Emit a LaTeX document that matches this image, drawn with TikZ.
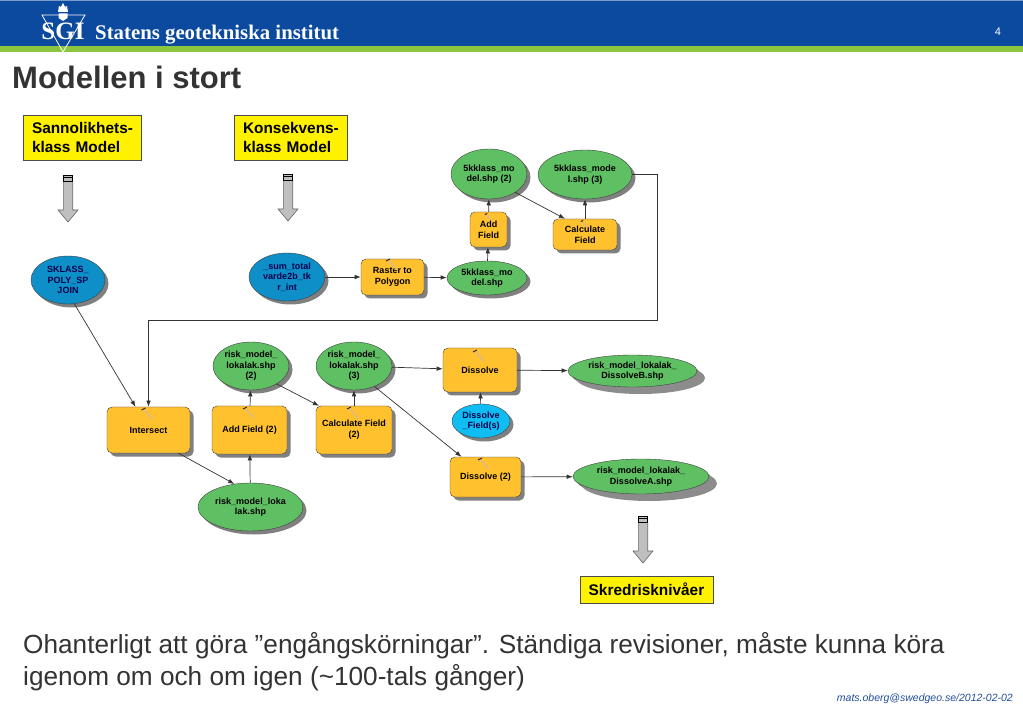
\documentclass[tikz,border=0pt]{standalone}
\usepackage{xcolor}
\usepackage{fontspec}
\setmainfont{Liberation Sans}
\newfontfamily\logofont{Liberation Serif}
\usetikzlibrary{shapes.geometric,arrows.meta,shadows}
\definecolor{sgiblue}{HTML}{0B4A9E}
\definecolor{sgigreen}{HTML}{8CC63F}
\definecolor{tool}{HTML}{FFC12E}
\definecolor{handle}{HTML}{DDB98C}
\definecolor{derived}{HTML}{5FBF63}
\definecolor{source}{HTML}{0E8FC8}
\definecolor{param}{HTML}{0FBDF2}
\definecolor{ink}{HTML}{333333}
\definecolor{mailblue}{HTML}{1F4E9E}

\begin{document}
\begin{tikzpicture}[
    x=1pt,y=-1pt,
    softshadow/.style={drop shadow={shadow xshift=3.5pt,shadow yshift=-3.5pt,fill=black!50,opacity=1}},
    wideshadow/.style={drop shadow={shadow xshift=8pt,shadow yshift=-7pt,fill=black!45,opacity=1}},
    toolbox/.style={draw=black!75,fill=tool,rounded corners=5pt,align=center,inner sep=1pt,softshadow,
      font=\fontsize{9}{11}\selectfont\bfseries},
    databox/.style={ellipse,draw=black!75,fill=derived,align=center,inner sep=0pt,softshadow,
      font=\fontsize{9}{10.5}\selectfont\bfseries},
    sourcebox/.style={databox,fill=source,text=blue!30!black},
    parambox/.style={databox,fill=param,text=blue!30!black},
    notebox/.style={draw=black!70,fill=yellow,inner xsep=9pt,inner ysep=0pt,
      font=\fontsize{15.4}{18.5}\selectfont\bfseries},
    arrow/.style={-Latex,black!80,line width=0.7pt},
    hammer/.pic={
      \draw[handle,line width=1.4pt] (0,0) -- (9,10);
      \draw[black!70!brown,line width=1pt] (-2,1) -- (2,-1);
    },
    fatarrow/.pic={
      \draw[black!60,fill=black!25,line width=0.6pt] (-4.7,6) -- (-4.7,35) -- (-10,35) -- (0,47) -- (10,35) -- (4.7,35) -- (4.7,6);
      \draw[black,fill=black!25,line width=0.6pt] (-4.7,0) rectangle (4.7,6);
      \draw[black,line width=0.6pt] (-4.7,2) -- (4.7,2);
    }
  ]
    \useasboundingbox (0,0) rectangle (1023,708);
    % header
    \fill[sgiblue] (0,0) rectangle (1023,46);
    \fill[sgiblue!55!white] (0,0) rectangle (1023,1.2);
    \fill[sgigreen] (0,46) rectangle (1023,52);
    \draw[white,line width=0.8pt] (42,15) -- (85,15) -- (63,52) -- cycle;
    \fill[white] (58,12) -- (59,6) -- (61,7) -- (63,3) -- (65,7) -- (67,6) -- (68,12) -- cycle;
    \fill[white] (58.5,13.5) -- (67.5,13.5) -- (67.5,18) -- (63,21) -- (58.5,18) -- cycle;
    \node[text=white,inner sep=0pt,anchor=base] (logo) at (63,40) {\logofont\fontsize{25}{25}\selectfont\bfseries SGI};
    \node[text=white,inner sep=0pt,anchor=base west] (org) at (95,40) {\logofont\fontsize{20.8}{21}\selectfont\bfseries Statens geotekniska institut};
    \node[text=white,inner sep=0pt,font=\fontsize{11}{11}\selectfont] (pageno) at (998,32) {4};
    \node[text=ink,inner sep=0pt,anchor=base west,font=\fontsize{31}{31}\selectfont\bfseries] (title) at (12,89) {Modellen i stort};

    % yellow notes
    \node[notebox,minimum width=118,minimum height=45,text width=100,align=left] (sannolikhet) at (82,137.5) {\mbox{Sannolikhets-}\\klass Model};
    \node[notebox,minimum width=113,minimum height=45,text width=95,align=left] (konsekvens) at (290.5,137.5) {\mbox{Konsekvens-}\\klass Model};
    \node[notebox,minimum width=133,minimum height=27,align=center] (skred) at (646.5,589.5) {Skredrisknivåer};
    \pic at (68,175) {fatarrow};
    \pic at (288,174) {fatarrow};
    \pic at (643,516) {fatarrow};

    % upper row
    \node[sourcebox,minimum width=74,minimum height=48] (sklass) at (68,280) {SKLASS\_\\POLY\_SP\\JOIN};
    \node[sourcebox,minimum width=76,minimum height=48] (sumtotal) at (287,277) {\_sum\_total\\varde2b\_tk\\r\_int};
    \node[toolbox,minimum width=63,minimum height=36] (raster) at (392.5,277) {Raster to\\Polygon};
    \node[databox,minimum width=80,minimum height=34] (klass) at (487,278) {5kklass\_mo\\del.shp};
    \node[toolbox,minimum width=37,minimum height=35] (addfield) at (488.5,229.5) {Add\\Field};
    \node[databox,minimum width=76,minimum height=50] (klasstwo) at (489,174) {5kklass\_mo\\del.shp (2)};
    \node[databox,minimum width=94,minimum height=49] (klassthree) at (585,174.5) {5kklass\_mode\\l.shp (3)};
    \node[toolbox,minimum width=64,minimum height=31] (calcfield) at (585,234.5) {Calculate\\Field};

    % lower row
    \node[toolbox,minimum width=83,minimum height=46] (intersect) at (148.5,430) {Intersect};
    \node[toolbox,minimum width=75,minimum height=48] (addtwo) at (249.5,430) {Add Field (2)};
    \node[toolbox,minimum width=76,minimum height=48] (calctwo) at (354,430) {Calculate Field\\(2)};
    \node[databox,minimum width=76,minimum height=48] (risktwo) at (251,366) {risk\_model\_\\lokalak.shp\\(2)};
    \node[databox,minimum width=76,minimum height=48] (riskthree) at (354,366) {risk\_model\_\\lokalak.shp\\(3)};
    \node[databox,minimum width=105,minimum height=48] (risk) at (250.5,507) {risk\_model\_loka\\lak.shp};
    \node[toolbox,minimum width=74,minimum height=44] (dissolve) at (480,370) {Dissolve};
    \node[toolbox,minimum width=71,minimum height=40] (dissolvetwo) at (485.5,477) {Dissolve (2)};
    \node[parambox,minimum width=58,minimum height=34] (fields) at (481,421) {Dissolve\\\_Field(s)};
    \node[databox,wideshadow,minimum width=129,minimum height=32] (riskb) at (632.5,371) {risk\_model\_lokalak\_\\DissolveB.shp};
    \node[databox,wideshadow,minimum width=136,minimum height=35] (riska) at (641,476.5) {risk\_model\_lokalak\_\\DissolveA.shp};

    \pic at (388,260) {hammer};
    \pic[scale=0.6] at (486,214) {hammer};
    \pic[scale=0.6] at (582,221) {hammer};
    \pic at (143.5,409) {hammer};
    \pic at (245,408) {hammer};
    \pic at (349,408) {hammer};
    \pic at (475,351) {hammer};
    \pic at (480,459) {hammer};

    \coordinate (bend) at (657,320);
    \draw[arrow] (sklass.-75) -- ([xshift=-13pt]intersect.north);
    \draw[arrow] (klassthree.east) -| (bend) -| (intersect.north);
    \draw[arrow] (sumtotal) -- (raster);
    \draw[arrow] (raster) -- (klass);
    \draw[arrow] (klass) -- (addfield);
    \draw[arrow] (addfield) -- (klasstwo);
    \draw[arrow] (klasstwo.-35) -- ([xshift=-20pt]calcfield.north);
    \draw[arrow] (calcfield) -- (klassthree);
    \draw[arrow] ([xshift=30pt]intersect.south) -- (risk.125);
    \draw[arrow] (risk) -- (addtwo);
    \draw[arrow] (addtwo) -- (risktwo);
    \draw[arrow] (risktwo.-35) -- ([xshift=-35pt]calctwo.north);
    \draw[arrow] (calctwo) -- (riskthree);
    \draw[arrow] (riskthree) -- (dissolve);
    \draw[arrow] (riskthree.-45) -- ([xshift=-24pt]dissolvetwo.north);
    \draw[arrow] (fields) -- (dissolve);
    \draw[arrow] (dissolve) -- (riskb);
    \draw[arrow] (dissolvetwo) -- (riska);

    % footer
    \node[text=ink,inner sep=0pt,anchor=base west,align=left,font=\fontsize{26.2}{32}\selectfont] (remark) at (23,685) {Ohanterligt att göra ”engångskörningar”. Ständiga revisioner, måste kunna köra\\igenom om och om igen (\textasciitilde100-tals gånger)};
    \node[text=mailblue,inner sep=0pt,anchor=base east,font=\fontsize{10.5}{12}\selectfont\itshape] (mail) at (1013,701) {mats.oberg@swedgeo.se/2012-02-02};
  \end{tikzpicture}
\end{document}
